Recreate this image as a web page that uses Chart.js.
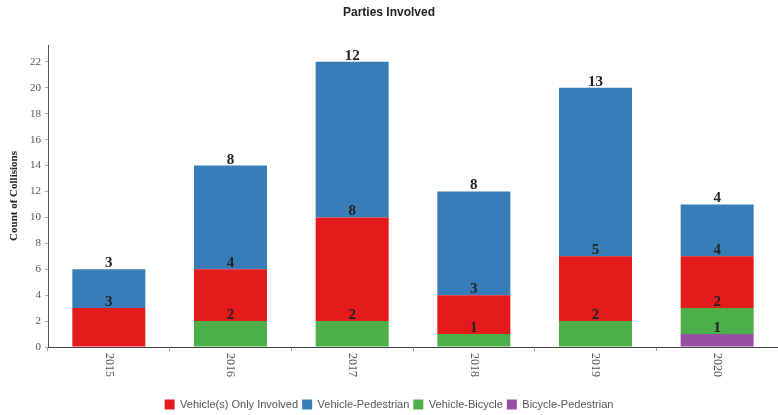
<!DOCTYPE html>
<html>
<head>
<meta charset="utf-8">
<script src="https://cdn.jsdelivr.net/npm/chart.js@4.4.0/dist/chart.umd.min.js"></script>
<style>
    html, body { margin: 0; padding: 0; background: #fff; }
</style>
</head>
<body>
<canvas id="myChart" width="778" height="415"></canvas>
<script>
// dados
let anos = ['2015', '2016', '2017', '2018', '2019', '2020'];
let bicicletaPedestre = [0, 0, 0, 0, 0, 1];
let veiculoBicicleta = [0, 2, 2, 1, 2, 2];
let veiculosApenas = [3, 4, 8, 3, 5, 4];
let veiculoPedestre = [3, 8, 12, 8, 13, 4];
let ticksY = [0, 2, 4, 6, 8, 10, 12, 14, 16, 18, 20, 22];
let ordemLegenda = ['Vehicle(s) Only Involved', 'Vehicle-Pedestrian', 'Vehicle-Bicycle', 'Bicycle-Pedestrian'];

// rotulos dos valores no topo de cada segmento
const rotulosBarras = {
    id: 'rotulosBarras',
    afterDatasetsDraw(chart) {
        let ctx = chart.ctx;
        ctx.save();
        ctx.font = 'bold 15px "Liberation Serif", serif';
        ctx.fillStyle = '#222';
        ctx.textAlign = 'center';
        ctx.textBaseline = 'alphabetic';
        chart.data.datasets.forEach(function(ds, i) {
            let meta = chart.getDatasetMeta(i);
            meta.data.forEach(function(bar, j) {
                if (ds.data[j] > 0) {
                    ctx.fillText(ds.data[j], bar.x, bar.y - 2);
                }
            });
        });
        ctx.restore();
    }
};

// anos no eixo x, girados no sentido horario
const rotulosAnos = {
    id: 'rotulosAnos',
    afterDraw(chart) {
        let ctx = chart.ctx;
        let x = chart.scales.x;
        ctx.save();
        ctx.font = '12px "Liberation Serif", serif';
        ctx.fillStyle = '#555';
        ctx.textAlign = 'left';
        ctx.textBaseline = 'middle';
        anos.forEach(function(ano, i) {
            ctx.save();
            ctx.translate(x.getPixelForValue(i), chart.chartArea.bottom + 6);
            ctx.rotate(Math.PI / 2);
            ctx.fillText(ano, 0, 0);
            ctx.restore();
        });
        ctx.restore();
    }
};

let ctx = document.getElementById('myChart').getContext('2d');
let grafico = new Chart(ctx, {
    type: 'bar',
    data: {
        labels: anos,
        datasets: [
            { label: 'Bicycle-Pedestrian', data: bicicletaPedestre, backgroundColor: '#984ea3' },
            { label: 'Vehicle-Bicycle', data: veiculoBicicleta, backgroundColor: '#4daf4a' },
            { label: 'Vehicle(s) Only Involved', data: veiculosApenas, backgroundColor: '#e41a1c' },
            { label: 'Vehicle-Pedestrian', data: veiculoPedestre, backgroundColor: '#377eb8' }
        ]
    },
    options: {
        responsive: false,
        animation: false,
        layout: { padding: { left: 0, right: 0, top: 0, bottom: 0 } },
        datasets: {
            bar: { barPercentage: 0.6, categoryPercentage: 1.0, borderWidth: 0 }
        },
        plugins: {
            title: {
                display: true,
                text: 'Parties Involved',
                color: '#222',
                font: { family: '"Liberation Sans", Arial, sans-serif', size: 12, weight: 'bold' },
                padding: { top: 5, bottom: 25.6 }
            },
            legend: {
                position: 'bottom',
                maxHeight: 20,
                labels: {
                    boxWidth: 10,
                    boxHeight: 10,
                    padding: 4,
                    color: '#555',
                    font: { family: '"Liberation Sans", Arial, sans-serif', size: 11 },
                    sort: function(a, b) {
                        return ordemLegenda.indexOf(a.text) - ordemLegenda.indexOf(b.text);
                    }
                }
            },
            tooltip: { enabled: false }
        },
        scales: {
            x: {
                stacked: true,
                ticks: { display: false },
                grid: { drawOnChartArea: false, tickLength: 4, color: '#999' },
                border: { color: '#444', width: 1 },
                afterFit: function(scale) { scale.height = 48; }
            },
            y: {
                stacked: true,
                min: 0,
                max: 23.3,
                afterBuildTicks: function(scale) {
                    scale.ticks = ticksY.map(function(v) { return { value: v }; });
                },
                ticks: {
                    color: '#555',
                    padding: 4,
                    font: { family: '"Liberation Serif", serif', size: 11 }
                },
                grid: { drawOnChartArea: false, tickLength: 3, color: '#aaa' },
                border: { color: '#555', width: 1 },
                title: {
                    display: true,
                    text: 'Count of Collisions',
                    color: '#222',
                    padding: { top: 8, bottom: 0 },
                    font: { family: '"Liberation Serif", serif', size: 11, weight: 'bold' }
                },
                afterFit: function(scale) { scale.width = 48; }
            }
        }
    },
    plugins: [rotulosBarras, rotulosAnos]
});
</script>
</body>
</html>
